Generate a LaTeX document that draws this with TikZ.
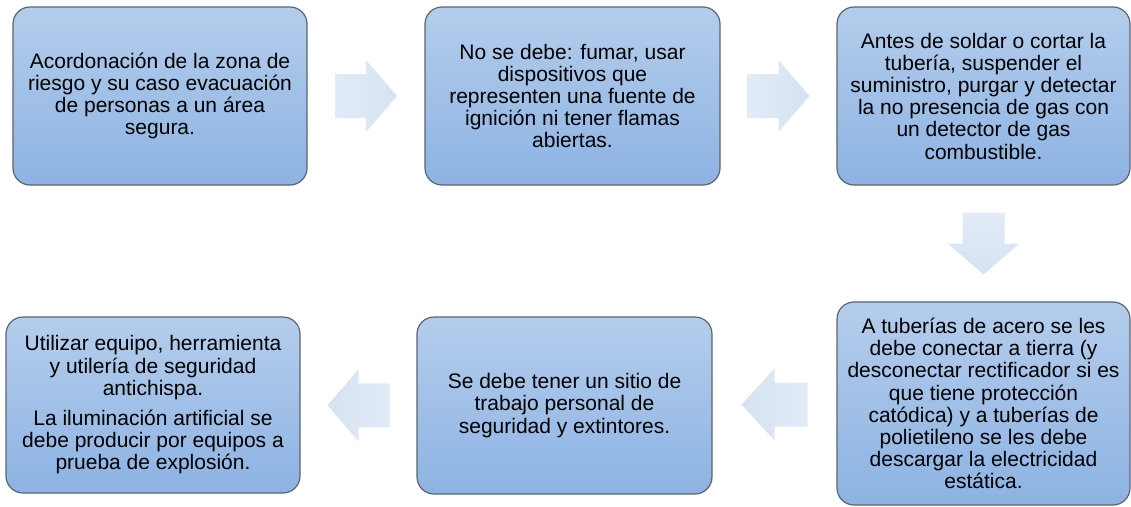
\documentclass[tikz,border=0pt]{standalone}
\usepackage{fontspec}
\setmainfont{Liberation Sans}
\usetikzlibrary{calc}
\definecolor{boxtop}{RGB}{180,205,236}
\definecolor{boxbot}{RGB}{141,179,227}
\definecolor{boxline}{RGB}{92,100,110}
\definecolor{arrowlight}{RGB}{226,235,247}
\definecolor{arrowdark}{RGB}{214,226,243}
\begin{document}
\begin{tikzpicture}[x=1pt,y=-1pt,
  stepbox/.style={draw=boxline, line width=1.2pt, rounded corners=17pt,
    top color=boxtop, bottom color=boxbot, align=center, inner sep=0pt,
    font=\fontsize{21}{22.2}\selectfont, text=black},
  blockarrow/.style={draw=none}]
\useasboundingbox (0,0) rectangle (1131,506);

\node[stepbox, minimum width=294pt, minimum height=178pt] (b1) at (160,96)
  {Acordonación de la zona de\\riesgo y su caso evacuación\\de personas a un área\\segura.};
\node[stepbox, minimum width=295pt, minimum height=178pt] (b2) at (572.5,96)
  {No se debe: fumar, usar\\dispositivos que\\representen una fuente de\\ignición ni tener flamas\\abiertas.};
\node[stepbox, minimum width=293pt, minimum height=178pt] (b3) at (983.5,96)
  {Antes de soldar o cortar la\\tubería, suspender el\\suministro, purgar y detectar\\la no presencia de gas con\\un detector de gas\\combustible.};
\node[stepbox, minimum width=293pt, minimum height=203pt] (b4) at (983.5,403.5)
  {A tuberías de acero se les\\debe conectar a tierra (y\\desconectar rectificador si es\\que tiene protección\\catódica) y a tuberías de\\polietileno se les debe\\descargar la electricidad\\estática.};
\node[stepbox, minimum width=295pt, minimum height=177pt] (b5) at (564.5,405.5)
  {Se debe tener un sitio de\\trabajo personal de\\seguridad y extintores.};
\node[stepbox, minimum width=294pt, minimum height=176pt] (b6) at (153,405)
  {Utilizar equipo, herramienta\\y utilería de seguridad\\antichispa.\\[8pt]La iluminación artificial se\\debe producir por equipos a\\prueba de explosión.};

\coordinate (m1) at ($(b1.east)!0.5!(b2.west)$);
\coordinate (m2) at ($(b2.east)!0.5!(b3.west)$);
\coordinate (m3) at ($(b3.south)!0.5!(b4.north)$);
\coordinate (m4) at ($(b5.east)!0.5!(b4.west)$);
\coordinate (m5) at ($(b6.east)!0.5!(b5.west)$);

\begin{scope}[shift={(m1)}]
  \shade[blockarrow, left color=arrowlight, right color=arrowdark]
    (-31,-22) -- (0,-22) -- (0,-36) -- (31,0) -- (0,36) -- (0,22) -- (-31,22) -- cycle;
\end{scope}
\begin{scope}[shift={(m2)}]
  \shade[blockarrow, left color=arrowlight, right color=arrowdark]
    (-31,-22) -- (0,-22) -- (0,-36) -- (31,0) -- (0,36) -- (0,22) -- (-31,22) -- cycle;
\end{scope}
\begin{scope}[shift={(m3)}]
  \shade[blockarrow, top color=arrowlight, bottom color=arrowdark]
    (-21,-31) -- (-21,0) -- (-36,0) -- (0,31) -- (36,0) -- (21,0) -- (21,-31) -- cycle;
\end{scope}
\begin{scope}[shift={(m4)}]
  \shade[blockarrow, right color=arrowlight, left color=arrowdark]
    (33,-22) -- (0,-22) -- (0,-36) -- (-33,0) -- (0,36) -- (0,22) -- (33,22) -- cycle;
\end{scope}
\begin{scope}[shift={(m5)}]
  \shade[blockarrow, right color=arrowlight, left color=arrowdark]
    (31,-22) -- (0,-22) -- (0,-36) -- (-31,0) -- (0,36) -- (0,22) -- (31,22) -- cycle;
\end{scope}
\end{tikzpicture}
\end{document}
